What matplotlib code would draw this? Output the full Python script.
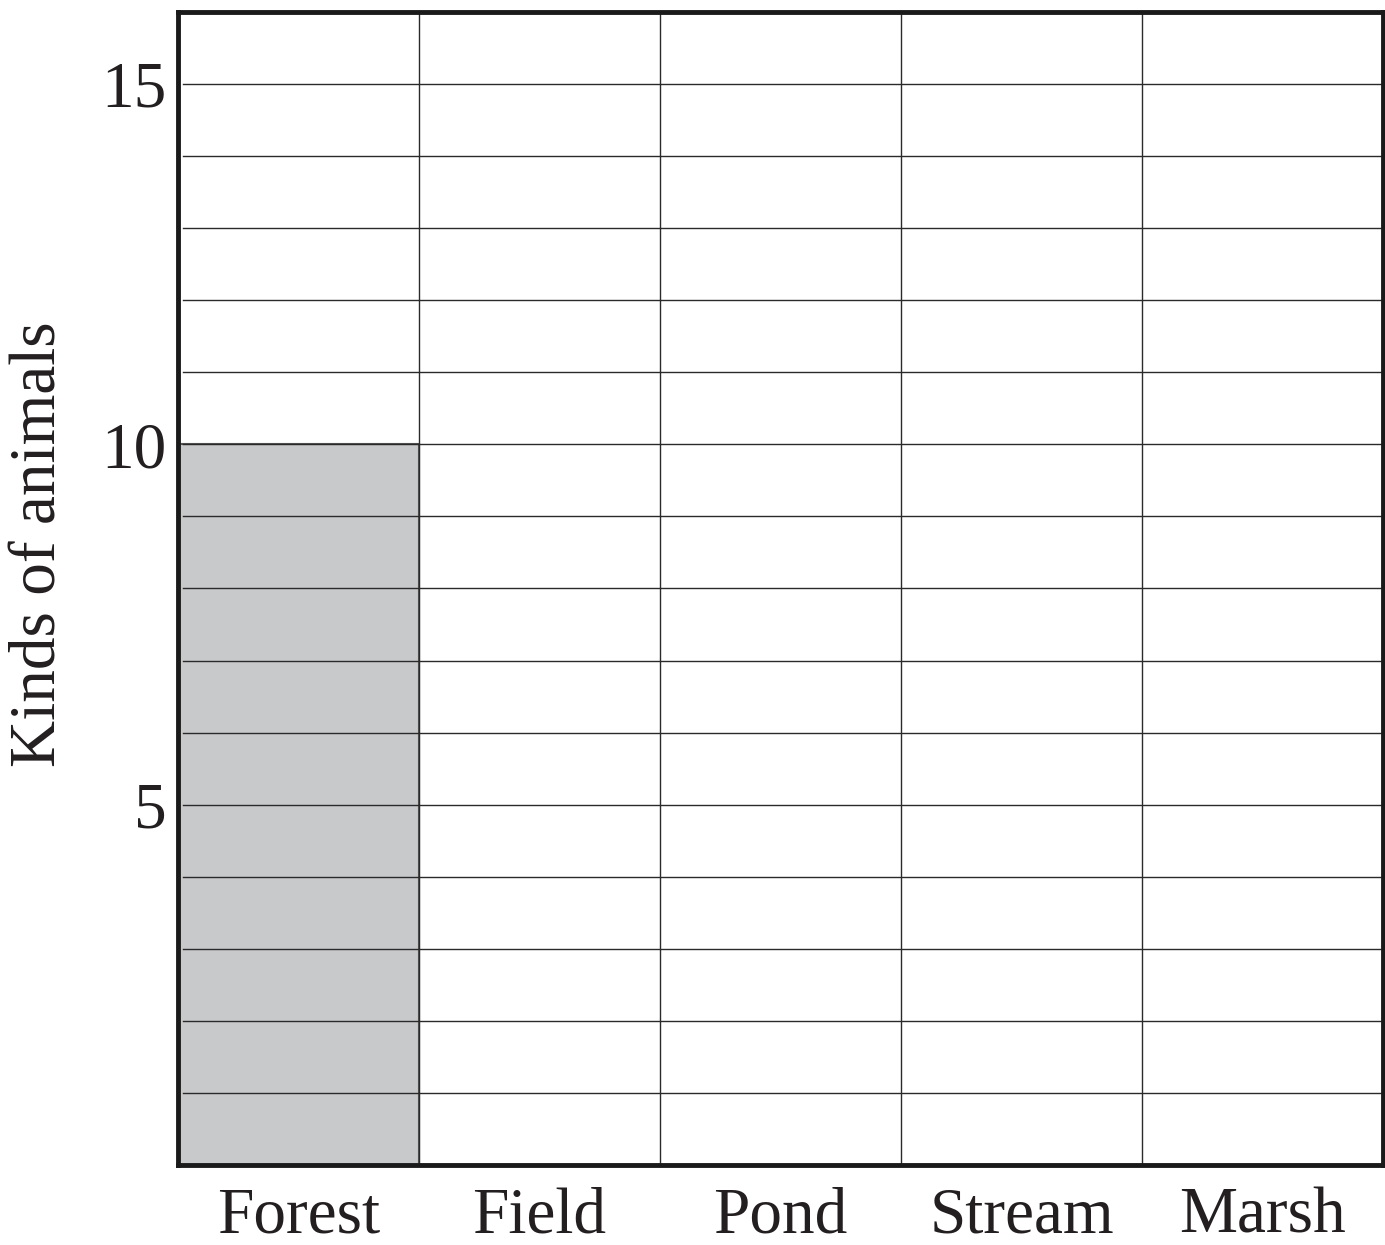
import numpy as np
import matplotlib
matplotlib.use('Agg')
import matplotlib.pyplot as plt

# data
habitats = ['Forest', 'Field', 'Pond', 'Stream', 'Marsh']
kinds = [10, 0, 0, 0, 0]
y_ticks = [5, 10, 15]

plt.rcParams['font.family'] = ['Liberation Serif', 'DejaVu Serif']
txt = '#231f20'

fig = plt.figure(figsize=(13.85, 12.45), dpi=100)
ax = fig.add_axes([0.1285, 0.0643, 0.8701, 0.9261])

x = np.arange(len(habitats))
ax.bar(x, kinds, width=1.0, color='#c8c9cb', edgecolor='#555555',
       linewidth=1.5, zorder=2)

ax.set_xlim(-0.5, len(habitats) - 0.5)
ax.set_ylim(0, 16)

# horizontal grid, one line per unit
for yv in range(1, 16):
    ax.axhline(yv, xmin=0.004, color='#2a2a2a', lw=1.0, zorder=3)
# column separators
for xv in x[:-1] + 0.5:
    ax.axvline(xv, color='#2a2a2a', lw=1.0, zorder=3)

ax.set_xticks(x)
ax.set_xticklabels(habitats)
ax.set_yticks(y_ticks)
ax.tick_params(axis='both', length=0, labelsize=47, colors=txt)
ax.tick_params(axis='y', pad=8)
ax.tick_params(axis='x', pad=16)

ax.set_ylabel('Kinds of animals', fontsize=47, color=txt)
ax.yaxis.set_label_coords(-0.09, 0.538)

for s in ax.spines.values():
    s.set_linewidth(3.5)
    s.set_color('#1a1a1a')
    s.set_zorder(4)

fig.savefig('out.png', dpi=100)
